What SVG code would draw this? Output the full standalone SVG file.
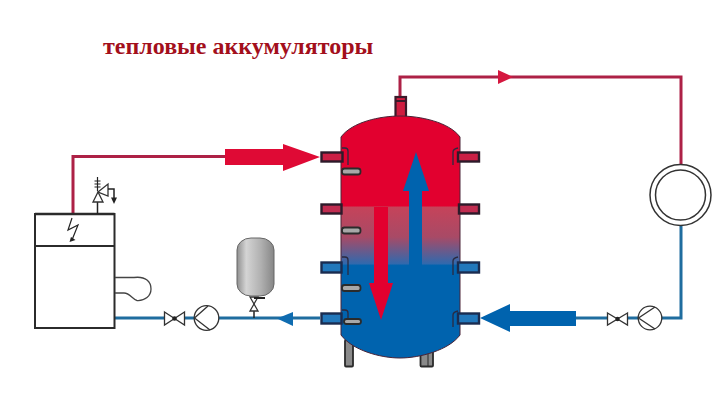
<svg xmlns="http://www.w3.org/2000/svg" width="720" height="405" viewBox="0 0 720 405">
<style>
.title{font-family:"Liberation Serif","Times New Roman",serif;font-size:24px;font-weight:bold;fill:#a30f1c}
.ol{fill:none;stroke:#2b2b2b;stroke-width:2}
.sym{fill:#fff;stroke:#333;stroke-width:1.3}
.chev{fill:none;stroke:#333;stroke-width:1.3}
.red{fill:none;stroke:#ad2146;stroke-width:3}
.blue{fill:none;stroke:#1f6d9f;stroke-width:3}
.stubR{fill:#cb1f45;stroke:#2d1a2a;stroke-width:2.400}
.stubM{fill:#c02c50;stroke:#2d1a2a;stroke-width:2.400}
.stubB{fill:#2278bb;stroke:#1a2c50;stroke-width:2.400}
.brk{fill:none;stroke:#2a2a40;stroke-width:1.300}
.sens{fill:#a8a8a8;stroke:#2b2b2b;stroke-width:1.800}
.leg{fill:#8a8a8a;stroke:#2b2b2b;stroke-width:1.800}
</style>
<defs>
<linearGradient id="tankFill" x1="0" y1="0" x2="0" y2="1">
<stop offset="0" stop-color="#e2002f"/>
<stop offset="0.37" stop-color="#e2002f"/>
<stop offset="0.378" stop-color="#c5435a"/>
<stop offset="0.5" stop-color="#a84a66"/>
<stop offset="0.61" stop-color="#3169ad"/>
<stop offset="0.618" stop-color="#0063ae"/>
<stop offset="1" stop-color="#0063ae"/>
</linearGradient>
<linearGradient id="vessel" x1="0" y1="0" x2="1" y2="0">
<stop offset="0" stop-color="#8f8f8f"/>
<stop offset="0.25" stop-color="#d4d4d4"/>
<stop offset="0.65" stop-color="#b0b0b0"/>
<stop offset="1" stop-color="#868686"/>
</linearGradient>
</defs>

<text class="title" x="103" y="53.500">тепловые аккумуляторы</text>

<g id="connectors">
<path class="red" d="M73 214V156.500H226"/>
<path class="red" d="M400 97V77H681V164"/>
<path class="blue" d="M681 226V318H661"/>
<path class="blue" d="M638 318H628"/>
<path class="blue" d="M607 318H576"/>
<path class="blue" d="M115 318H164"/>
<path class="blue" d="M185 318H194"/>
<path class="blue" d="M219 318H320"/>
<polygon points="498,70 513,77 498,84" fill="#d5173f"/>
<polygon points="225,149 283,149 283,144 320,157 283,171 283,165 225,165" fill="#df0a35"/>
<polygon points="576,311 510,311 510,304 480,318 510,332 510,326 576,326" fill="#0063ae"/>
<polygon points="293,312 293,326 277,318.500" fill="#0f6cb0"/>
</g>

<g id="tank">
<rect class="leg" x="345" y="340" width="8" height="26.500" rx="1"/>
<rect class="leg" x="420.500" y="340" width="12.500" height="26.500" rx="1"/>
<path d="M428 352V366" stroke="#2b2b2b" stroke-width="1" fill="none"/>
<rect x="395.500" y="97" width="10.500" height="23" fill="#cf1c40" stroke="#3a1a2a" stroke-width="2.200"/>
<path d="M396 101H405" stroke="#3a1a2a" stroke-width="2" fill="none"/>
<path d="M341 137C352 122 380 116 400 116C420 116 449 122 460 137V335C449 350 420 358 400 358C380 358 352 350 341 335Z" fill="url(#tankFill)" stroke="#4a2438" stroke-width="1"/>
</g>

<g id="tank-ports">
<rect class="stubR" x="321.500" y="152.500" width="21" height="9"/>
<rect class="stubR" x="458" y="152.500" width="21" height="9"/>
<rect class="stubM" x="321.500" y="204.500" width="20" height="9"/>
<rect class="stubM" x="459" y="204.500" width="20" height="9"/>
<rect class="stubB" x="321.500" y="262.500" width="20" height="10"/>
<rect class="stubB" x="458" y="262.500" width="21" height="10"/>
<rect class="stubB" x="321.500" y="313.500" width="20" height="10"/>
<rect class="stubB" x="458" y="313.500" width="21" height="10"/>
<path class="brk" d="M342 148H345Q348 148 348 151V165"/>
<path class="brk" d="M458 148Q453 149 453 152V165"/>
<path class="brk" d="M342 257H345Q348 257 348 260V275"/>
<path class="brk" d="M458 257Q453 258 453 261V275"/>
<path class="brk" d="M342 310H345Q348 310 348 313V324"/>
<path class="brk" d="M458 311Q453 312 453 315V327"/>
<rect class="sens" x="342" y="168.500" width="18.500" height="6" rx="2.500"/>
<rect class="sens" x="342" y="227.500" width="18.500" height="6" rx="2.500"/>
<rect class="sens" x="342" y="285" width="18.500" height="6" rx="2.500"/>
<rect class="sens" x="344" y="319" width="17" height="5" rx="2.500"/>
</g>

<g id="tank-arrows">
<polygon points="416,152 429,191 422,191 422,266 409,266 409,191 403,191" fill="#0063ae"/>
<polygon points="374,207 388,207 388,283 393,283 381,320 369,283 374,283" fill="#e2002f"/>
</g>

<g id="boiler">
<rect class="ol" x="35" y="214" width="79.500" height="114"/>
<path d="M35 214H114.500" stroke="#2b2b2b" stroke-width="2.500" fill="none"/>
<path class="ol" d="M35 246H114.500"/>
<path d="M115 277.500H134C146 276 151 282 151 289C151 296 145 301 137 300.500C133 300 130 293 124 293H115" fill="none" stroke="#444" stroke-width="1.300"/>
<path d="M72 218L68 230L78 225L72 240" fill="none" stroke="#222" stroke-width="1.200"/>
<polygon points="69.500,242 71,237 75.500,240" fill="#222"/>
</g>

<g id="safety-valve">
<path d="M97.500 214V202" stroke="#222" stroke-width="1.500" fill="none"/>
<polygon class="sym" points="98,192 93,202 103,202"/>
<polygon class="sym" points="98,192 108,184 108,196"/>
<path d="M97.500 177V191M94.500 181H100.500M94.500 184H100.500M94.500 187H100.500" stroke="#222" stroke-width="1.200" fill="none"/>
<path d="M108 189H114V198" fill="none" stroke="#222" stroke-width="1.500"/>
<polygon points="111,197.500 117,197.500 114,204" fill="#222"/>
</g>

<g id="valve-left">
<polygon class="sym" points="164.500,312 174.500,318.500 164.500,325"/>
<polygon class="sym" points="184.500,312 174.500,318.500 184.500,325"/>
<circle cx="174.500" cy="318.500" r="2.200" fill="#222"/>
</g>
<g id="pump-left">
<circle class="sym" cx="206.500" cy="318" r="12.300"/>
<path class="chev" d="M208 306L194.500 318L210 330"/>
</g>

<g id="expansion-vessel">
<path d="M254 318V311" stroke="#222" stroke-width="1.500" fill="none"/>
<polygon class="sym" points="254,304 250,311 258,311"/>
<polygon class="sym" points="254,304 250,297 258,297"/>
<path d="M254 298H265" stroke="#222" stroke-width="2" fill="none"/>
<rect x="237" y="238" width="37" height="58" rx="14" ry="12" fill="url(#vessel)" stroke="#666" stroke-width="1"/>
</g>

<g id="valve-right">
<polygon class="sym" points="607.500,313 617.500,319 607.500,325"/>
<polygon class="sym" points="627.500,313 617.500,319 627.500,325"/>
<circle cx="617.500" cy="319" r="2.200" fill="#222"/>
</g>
<g id="pump-right">
<circle class="sym" cx="650" cy="318" r="11.800"/>
<path class="chev" d="M655 307L638.500 318L655 329"/>
</g>

<g id="heater">
<circle cx="680.500" cy="195" r="30.500" fill="#fff" stroke="#333" stroke-width="1.500"/>
<circle cx="680.500" cy="195" r="25" fill="#fff" stroke="#333" stroke-width="1.500"/>
</g>
</svg>
